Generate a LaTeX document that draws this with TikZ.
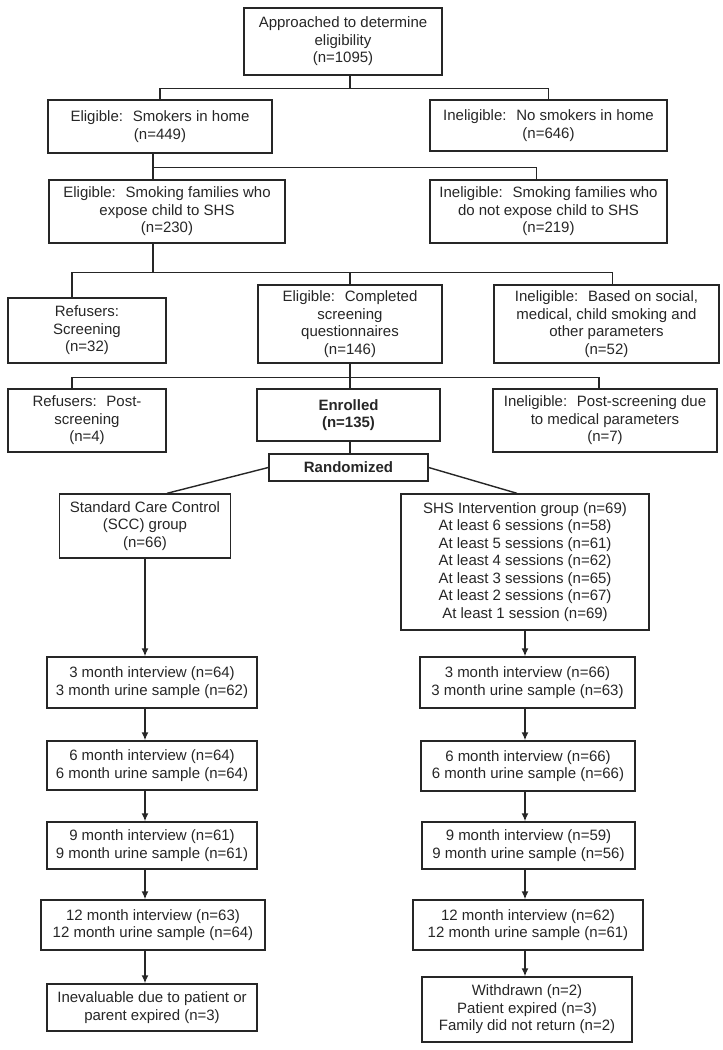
\documentclass[tikz,border=0pt]{standalone}
\usepackage{fontspec}
\setmainfont{Liberation Sans}
\usetikzlibrary{arrows.meta,calc}

\tikzset{
  flowbox/.style={draw=black!85, line width=1.4pt, align=center, inner sep=0pt, text=black!85},
  conn/.style={draw=black!85, line width=1.4pt},
  arr/.style={conn, -{Latex[length=8pt,width=7pt]}},
}

\begin{document}
\begin{tikzpicture}[x=1pt,y=-1pt,font=\fontsize{15}{17.5}\selectfont]
    \useasboundingbox (0,0) rectangle (723,1050);
    % Screening
    \node[flowbox, minimum width=198pt, minimum height=67pt] (appr) at (343,41.5) {Approached to determine\\eligibility\\(n=1095)};
    \node[flowbox, minimum width=224pt, minimum height=53pt] (elig) at (160,126.5) {Eligible:~ Smokers in home\\(n=449)};
    \node[flowbox, minimum width=237pt, minimum height=51pt] (inel) at (548.5,125.5) {Ineligible:~ No smokers in home\\(n=646)};
    \node[flowbox, minimum width=236pt, minimum height=63pt] (expo) at (167,211.5) {Eligible:~ Smoking families who\\expose child to SHS\\(n=230)};
    \node[flowbox, minimum width=237pt, minimum height=63pt] (noexpo) at (548.5,211.5) {Ineligible:~ Smoking families who\\do not expose child to SHS\\(n=219)};
    \node[flowbox, minimum width=158pt, minimum height=65pt] (refscr) at (87,330.5) {Refusers:\\Screening\\(n=32)};
    \node[flowbox, minimum width=184pt, minimum height=78pt] (compl) at (350,324) {Eligible:~ Completed\\screening\\questionnaires\\(n=146)};
    \node[flowbox, minimum width=225pt, minimum height=78pt] (inelsoc) at (606.5,324) {Ineligible:~ Based on social,\\medical, child smoking and\\other parameters\\(n=52)};
    \node[flowbox, minimum width=158pt, minimum height=63pt] (refpost) at (87,420.5) {Refusers:~ Post-\\screening\\(n=4)};
    \node[flowbox, minimum width=183pt, minimum height=52pt, font=\fontsize{15}{17.5}\selectfont\bfseries] (enrol) at (348.5,415) {Enrolled\\(n=135)};
    \node[flowbox, minimum width=224pt, minimum height=63pt] (inelpost) at (605,420.5) {Ineligible:~ Post-screening due\\to medical parameters\\(n=7)};
    \node[flowbox, minimum width=159pt, minimum height=27pt, font=\fontsize{15}{17.5}\selectfont\bfseries] (rand) at (348.5,467.5) {Randomized};

    % Groups
    \node[flowbox, minimum width=171pt, minimum height=64pt] (scc) at (145,526) {Standard Care Control\\(SCC) group\\(n=66)};
    \node[flowbox, minimum width=248pt, minimum height=136pt] (shs) at (525,562) {SHS Intervention group (n=69)\\At least 6 sessions (n=58)\\At least 5 sessions (n=61)\\At least 4 sessions (n=62)\\At least 3 sessions (n=65)\\At least 2 sessions (n=67)\\At least 1 session (n=69)};

    % Follow-up
    \foreach \nm/\cx/\cy/\w/\h/\txt in {
        m3l/152/682.5/210/51/{3 month interview (n=64)\\3 month urine sample (n=62)},
        m6l/152/765.5/210/49/{6 month interview (n=64)\\6 month urine sample (n=64)},
        m9l/152/845.5/210/47/{9 month interview (n=61)\\9 month urine sample (n=61)},
        m12l/153/925/224/50/{12 month interview (n=63)\\12 month urine sample (n=64)},
        endl/152/1007.5/210/47/{Inevaluable due to patient or\\parent expired (n=3)},
        m3r/527.5/682.5/215/51/{3 month interview (n=66)\\3 month urine sample (n=63)},
        m6r/528/766/214/50/{6 month interview (n=66)\\6 month urine sample (n=66)},
        m9r/528.5/845.5/213/47/{9 month interview (n=59)\\9 month urine sample (n=56)},
        m12r/528/925/230/50/{12 month interview (n=62)\\12 month urine sample (n=61)},
        endr/527/1009.5/210/65/{Withdrawn (n=2)\\Patient expired (n=3)\\Family did not return (n=2)}} {
        \node[flowbox, minimum width=\w pt, minimum height=\h pt] (\nm) at (\cx,\cy) {\txt};
    }

    % Connectors
    \draw[conn] ([xshift=7pt]appr.south) -- ++(0,13) -| (elig.north);
    \draw[conn] ([xshift=7pt]appr.south) -- ++(0,13) -| (inel.north);
    \draw[conn] ([xshift=-7pt]elig.south) -- ++(0,14) -| ([xshift=-14pt]expo.north);
    \draw[conn] ([xshift=-7pt]elig.south) -- ++(0,14) -| ([xshift=-12pt]noexpo.north);
    \draw[conn] ([xshift=-14pt]expo.south) -- ++(0,29) -| ([xshift=-15pt]refscr.north);
    \draw[conn] ([xshift=-14pt]expo.south) -- ++(0,29) -| (compl.north);
    \draw[conn] ([xshift=-14pt]expo.south) -- ++(0,29) -| ([xshift=6pt]inelsoc.north);
    \draw[conn] (compl.south) -- ++(0,14) -| ([xshift=-15pt]refpost.north);
    \draw[conn] (compl.south) -- ++(0,14) -| ([xshift=1.5pt]enrol.north);
    \draw[conn] (compl.south) -- ++(0,14) -| ([xshift=-6pt]inelpost.north);
    \draw[conn] ([xshift=1.5pt]enrol.south) -- ([xshift=1.5pt]rand.north);
    \draw[conn] (rand.west) -- ([xshift=22pt]scc.north);
    \draw[conn] (rand.east) -- ([xshift=-8pt]shs.north);

    \foreach \a/\b in {scc/m3l, m3l/m6l, m6l/m9l, m9l/m12l, m12l/endl}
        \draw[arr] (\a.south -| scc.south) -- (\b.north -| scc.south);
    \foreach \a/\b in {shs/m3r, m3r/m6r, m6r/m9r, m9r/m12r, m12r/endr}
        \draw[arr] (\a.south -| shs.south) -- (\b.north -| shs.south);
\end{tikzpicture}
\end{document}
